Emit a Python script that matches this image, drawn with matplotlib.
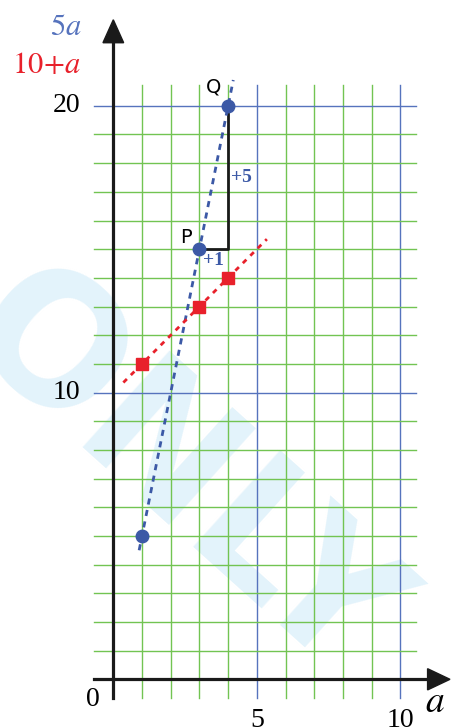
import matplotlib
matplotlib.use("Agg")
import matplotlib.pyplot as plt
from matplotlib.patches import Polygon

plt.rcParams['mathtext.fontset'] = 'stix'
plt.rcParams['font.family'] = ['Liberation Serif', 'DejaVu Serif']

# data
a_points = [1, 3, 4]
five_a = [5 * a for a in a_points]
ten_plus_a = [10 + a for a in a_points]
blue_line_a = [0.9, 4.18]
red_line_a = [0.35, 5.35]
x_ticks = [0, 5, 10]
y_ticks = [10, 20]

green = '#72c452'
gblue = '#5673bd'
pblue = '#3c59a6'
red = '#e8212b'

fig = plt.figure(figsize=(4.56, 7.27), dpi=100)
ax = fig.add_axes([0, 0, 1, 1])
ax.set_xlim(-3.948, 11.94)
ax.set_ylim(-1.663, 23.69)
ax.axis('off')

# watermark
ax.text(2.3, 7.1, 'ONLY', rotation=-42, fontsize=128, color='#e3f3fb',
        family='DejaVu Sans', fontweight='bold', ha='center', va='center', zorder=0)

# grid
for i in range(1, 11):
    c = gblue if i % 5 == 0 else green
    ax.plot([i, i], [-0.65, 20.72], color=c, lw=1.0, zorder=1)
for j in range(1, 21):
    c = gblue if j % 10 == 0 else green
    ax.plot([-0.67, 10.55], [j, j], color=c, lw=1.0, zorder=1)

# axes
ax.plot([0, 0], [-0.65, 22.3], color='#1a1a1a', lw=2.3, zorder=3)
ax.plot([-0.67, 11.0], [0, 0], color='#1a1a1a', lw=2.3, zorder=3)
ax.add_patch(Polygon([[-0.36, 22.2], [0.36, 22.2], [0, 23.0]], closed=True,
                     color='#1a1a1a', zorder=4))
ax.add_patch(Polygon([[10.95, 0.37], [10.95, -0.37], [11.73, 0]], closed=True,
                     color='#1a1a1a', zorder=4))

# tick labels
ax.text(-0.7, -0.72, '0', fontsize=20, ha='center', va='center')
for t in x_ticks[1:]:
    ax.text(t, -1.45, str(t), fontsize=20, ha='center', va='center')
for t in y_ticks:
    ax.text(-1.15, t, str(t), fontsize=20, ha='right', va='center')
ax.text(11.2, -0.8, r'$\mathit{a}$', fontsize=27, ha='center', va='center')
ax.text(-1.1, 22.74, r'$5\mathit{a}$', fontsize=22, color=gblue, ha='right', va='center')
ax.text(-1.1, 21.42, r'$10\!+\!\mathit{a}$', fontsize=22, color=red, ha='right', va='center')

# lines
ax.plot(blue_line_a, [5 * a for a in blue_line_a], color=pblue, lw=2.0,
        dashes=(2.2, 2.0), zorder=5)
ax.plot(red_line_a, [10 + a for a in red_line_a], color=red, lw=2.0,
        dashes=(1.8, 2.0), zorder=5)

# step
ax.plot([3, 4, 4], [15, 15, 20], color='#1a1a1a', lw=2.0, zorder=4)
ax.text(3.5, 14.6, '+1', fontsize=14, color=pblue, fontweight='bold',
        ha='center', va='center', zorder=6)
ax.text(4.1, 17.5, '+5', fontsize=14, color=pblue, fontweight='bold',
        ha='left', va='center', zorder=6)

# points
ax.plot(a_points, ten_plus_a, 's', color=red, ms=8.5, zorder=6)
ax.plot(a_points, five_a, 'o', color=pblue, ms=9, zorder=7)

ax.text(2.75, 15.4, 'P', fontsize=14, family='DejaVu Sans', ha='right', va='center')
ax.text(3.75, 20.65, 'Q', fontsize=14, family='DejaVu Sans', ha='right', va='center')

fig.savefig('out.png', dpi=100)
